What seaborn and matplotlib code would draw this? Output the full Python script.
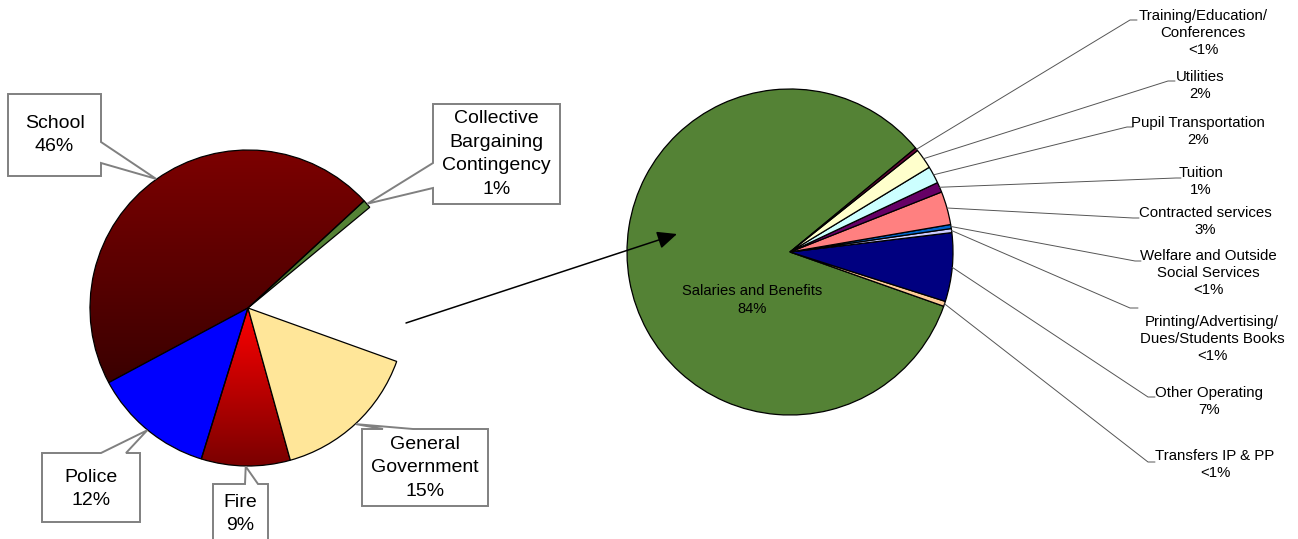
import numpy as np
import matplotlib
matplotlib.use("Agg")
import matplotlib.pyplot as plt
import seaborn as sns
from matplotlib.colors import LinearSegmentedColormap
from matplotlib.patches import Polygon

# ---------------- data ----------------
left_categories = ["Collective\nBargaining\nContingency", "School", "Police", "Fire",
                   "General\nGovernment", ""]
left_values = [0.86, 46.0, 12.4, 9.1, 15.2, 16.5]
left_pct_labels = ["1%", "46%", "12%", "9%", "15%", ""]
left_colors = ["#548235", "#7A0000", "#0000FF", "#E00000", "#FFE699", "none"]

right_categories = ["Salaries and Benefits", "Transfers IP & PP", "Other Operating",
                    "Printing/Advertising/\nDues/Students Books",
                    "Welfare and Outside\nSocial Services", "Contracted services",
                    "Tuition", "Pupil Transportation", "Utilities",
                    "Training/Education/\nConferences"]
right_values = [83.6, 0.5, 6.8, 0.4, 0.4, 3.3, 1.0, 1.7, 2.0, 0.3]
right_pct_labels = ["84%", "<1%", "7%", "<1%", "<1%", "3%", "1%", "2%", "2%", "<1%"]
right_colors = ["#548235", "#FFCC99", "#000080", "#CCCCFF", "#0066CC", "#FF8080",
                "#660066", "#CCFFFF", "#FFFFCC", "#660033"]

# ---------------- layout ----------------
W, H = 1298, 539
sns.set_theme(style="white")
plt.rcParams["font.family"] = ["Liberation Sans", "DejaVu Sans"]

fig = plt.figure(figsize=(W / 100, H / 100), dpi=100)
ax = fig.add_axes([0, 0, 1, 1])


def Y(y):
    return H - y


L_CENTER = (248, Y(308))
L_R = 158
R_CENTER = (790, Y(252))
R_R = 163

lw_edges, _ = ax.pie(left_values, colors=left_colors, startangle=39.6, counterclock=True,
                     center=L_CENTER, radius=L_R,
                     wedgeprops=dict(edgecolor="black", linewidth=0.9))
lw_edges[-1].set_edgecolor("none")
lw_edges[-1].set_facecolor("none")

rw_edges, _ = ax.pie(right_values, colors=right_colors, startangle=39.6, counterclock=True,
                     center=R_CENTER, radius=R_R,
                     wedgeprops=dict(edgecolor="black", linewidth=0.9))


def gradient_fill(w, c_top, c_bot):
    ext = w.get_path().get_extents()
    grad = np.linspace(0, 1, 256).reshape(-1, 1)
    cmap = LinearSegmentedColormap.from_list("g", [c_bot, c_top])
    ax.imshow(grad, cmap=cmap, extent=(ext.x0, ext.x1, ext.y0, ext.y1), origin="lower",
              aspect="auto", clip_path=w, zorder=0.9, interpolation="bilinear")
    w.set_facecolor("none")


gradient_fill(lw_edges[1], "#7C0000", "#3A0000")
gradient_fill(lw_edges[3], "#FF0000", "#7A0000")


def edge_point(w, center, r, extra=0.0):
    t = np.deg2rad((w.theta1 + w.theta2) / 2)
    return center[0] + (r + extra) * np.cos(t), center[1] + (r + extra) * np.sin(t)


# ---- left callouts: box (x0,y0,x1,y1) in pixels, pointer side, base span, text centre y
left_layout = [
    ((433, 104, 560, 204), "left", (163, 188), 154),
    ((8, 94, 101, 176), "right", (142, 163), 135),
    ((42, 453, 140, 522), "top", (101, 126), 489),
    ((213, 484, 268, 570), "top", (245, 258), 514),
    ((362, 429, 488, 506), "top", (383, 413), 468),
]
for i, (box, side, (a, b), ty) in enumerate(left_layout):
    x0, y0, x1, y1 = box
    tx, tyd = edge_point(lw_edges[i], L_CENTER, L_R, 0.5)
    tip = (tx, tyd)
    if side == "right":
        pts = [(x0, Y(y0)), (x1, Y(y0)), (x1, Y(a)), tip, (x1, Y(b)), (x1, Y(y1)), (x0, Y(y1))]
    elif side == "left":
        pts = [(x0, Y(y0)), (x1, Y(y0)), (x1, Y(y1)), (x0, Y(y1)), (x0, Y(b)), tip, (x0, Y(a))]
    else:
        pts = [(x0, Y(y0)), (a, Y(y0)), tip, (b, Y(y0)), (x1, Y(y0)), (x1, Y(y1)), (x0, Y(y1))]
    ax.add_patch(Polygon(pts, closed=True, facecolor="white", edgecolor="#808080",
                         linewidth=1.4, zorder=3, joinstyle="miter"))
    ax.text((x0 + x1) / 2, Y(ty), f"{left_categories[i]}\n{left_pct_labels[i]}",
            ha="center", va="center", fontsize=14, color="black", zorder=4,
            linespacing=1.5)

# ---- right labels: leader end (x,y), tick end x, text centre x, first-line y
right_layout = {
    9: ((1130, 20), 1137, 1203, 16),
    8: ((1168, 81), 1175, 1200, 77),
    7: ((1127, 127), 1133, 1198, 123),
    6: ((1176, 178), 1181, 1201, 173),
    5: ((1133, 218), 1139, 1205, 213),
    4: ((1135, 261), 1141, 1208, 256),
    3: ((1130, 308), 1138, 1212, 322),
    2: ((1148, 397), 1155, 1209, 393),
    1: ((1148, 462), 1155, 1215, 456),
}
LS = 17.0
for i, ((ex, ey), tick, cx, y1) in right_layout.items():
    sx, sy = edge_point(rw_edges[i], R_CENTER, R_R, 0.0)
    ax.plot([sx, ex, tick], [sy, Y(ey), Y(ey)], color="#555555", linewidth=0.7, zorder=2)
    txt = f"{right_categories[i]}\n{right_pct_labels[i]}"
    n = txt.count("\n") + 1
    cy = y1 + (n - 1) * LS / 2
    ax.text(cx, Y(cy), txt, ha="center", va="center", fontsize=10.8, color="black",
            linespacing=1.3, zorder=4)

# label inside the big slice
ax.text(752, Y(300), f"{right_categories[0]}\n{right_pct_labels[0]}", ha="center",
        va="center", fontsize=10.6, color="black", linespacing=1.35, zorder=4)

# arrow linking the two pies
ax.annotate("", xy=(677, Y(234)), xytext=(406, Y(323)),
            arrowprops=dict(arrowstyle="-|>,head_length=0.6,head_width=0.27",
                            mutation_scale=20, color="black", linewidth=1.1,
                            shrinkA=0, shrinkB=0), zorder=5)

ax.set_xlim(0, W)
ax.set_ylim(0, H)
ax.set_aspect("auto")
ax.axis("off")
fig.savefig("out.png", dpi=100, facecolor="white")
